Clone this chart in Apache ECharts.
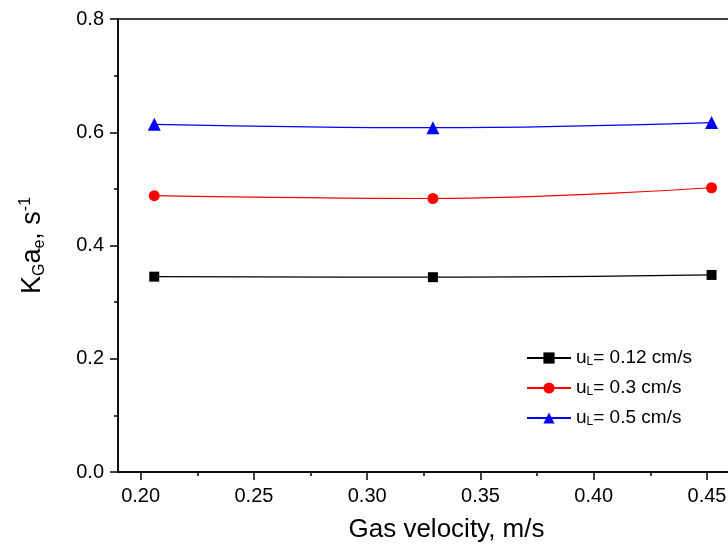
<!DOCTYPE html>
<html>
<head>
<meta charset="utf-8">
<script src="https://cdn.jsdelivr.net/npm/echarts@6/dist/echarts.min.js"></script>
<style>
	html, body { margin: 0; padding: 0; background: #fff; }
	#chart1 { width: 728px; height: 548px; }
</style>
</head>
<body>
<div id="chart1"></div>
<script>
// gas velocity (m/s)
var gasVelocity = [0.206, 0.329, 0.452];

// KGae (s^-1) for each liquid velocity
var kga012 = [0.345, 0.344, 0.348];
var kga03 = [0.488, 0.483, 0.502];
var kga05 = [0.614, 0.608, 0.617];

var seriesNames = ['uL= 0.12 cm/s', 'uL= 0.3 cm/s', 'uL= 0.5 cm/s'];
var legendRich = {
	'uL= 0.12 cm/s': '{m|u}{sub|L}{m|= 0.12 cm/s}',
	'uL= 0.3 cm/s': '{m|u}{sub|L}{m|= 0.3 cm/s}',
	'uL= 0.5 cm/s': '{m|u}{sub|L}{m|= 0.5 cm/s}'
};

var xMajorTicks = [0.20, 0.25, 0.30, 0.35, 0.40, 0.45];
var xMinorTicks = [0.225, 0.275, 0.325, 0.375, 0.425, 0.475];

var fontName = 'Liberation Sans, Arial, sans-serif';

function pairs(xs, ys) {
	var out = [];
	for (var i = 0; i < xs.length; i++) {
		out.push([xs[i], ys[i]]);
	}
	return out;
}

var chart = echarts.init(document.getElementById('chart1'));

var option = {
	animation: false,
	textStyle: { fontFamily: fontName },
	grid: {
		left: 118,
		top: 19,
		width: 657,
		height: 453,
		outerBoundsMode: 'none',
		containLabel: false,
		show: true,
		borderColor: '#000',
		borderWidth: 1.5
	},
	legend: {
		orient: 'vertical',
		left: 521,
		top: 343,
		itemWidth: 44,
		itemHeight: 14,
		itemGap: 10,
		data: seriesNames,
		formatter: function(name) { return legendRich[name]; },
		textStyle: {
			color: '#000',
			fontFamily: fontName,
			fontSize: 19,
			lineHeight: 20,
			rich: {
				m: { fontSize: 19, fontFamily: fontName, color: '#000', lineHeight: 20 },
				sub: { fontSize: 12, fontFamily: fontName, color: '#000', lineHeight: 8, verticalAlign: 'bottom' }
			}
		}
	},
	xAxis: [{
		type: 'value',
		min: 0.19,
		max: 0.48,
		position: 'bottom',
		name: 'Gas velocity, m/s',
		nameLocation: 'middle',
		nameGap: 45,
		nameTextStyle: { fontSize: 26, color: '#000', fontFamily: fontName },
		axisLine: { show: true, lineStyle: { color: '#000', width: 1.5 } },
		axisTick: { show: true, length: 8, customValues: xMajorTicks, lineStyle: { color: '#000', width: 1.5 } },
		axisLabel: {
			customValues: xMajorTicks,
			margin: 14,
			fontSize: 20,
			color: '#000',
			fontFamily: fontName,
			formatter: function(v) { return v.toFixed(2); }
		},
		splitLine: { show: false }
	}, {
		type: 'value',
		min: 0.19,
		max: 0.48,
		position: 'bottom',
		axisLine: { show: false },
		axisTick: { show: true, length: 4, customValues: xMinorTicks, lineStyle: { color: '#000', width: 1.5 } },
		axisLabel: { show: false },
		splitLine: { show: false }
	}],
	yAxis: [{
		type: 'value',
		min: 0,
		max: 0.8,
		interval: 0.2,
		name: '{m|K}{sub|G}{m|a}{sub|e}{m|, s}{sup|-1}',
		nameLocation: 'middle',
		nameGap: 70,
		nameRotate: 90,
		nameTextStyle: {
			color: '#000',
			fontFamily: fontName,
			rich: {
				m: { fontSize: 27, fontFamily: fontName, color: '#000', lineHeight: 30 },
				sub: { fontSize: 16, fontFamily: fontName, color: '#000', lineHeight: 10, verticalAlign: 'bottom' },
				sup: { fontSize: 16, fontFamily: fontName, color: '#000', lineHeight: 10, verticalAlign: 'top' }
			}
		},
		axisLine: { show: true, lineStyle: { color: '#000', width: 1.5 } },
		axisTick: { show: true, length: 8, lineStyle: { color: '#000', width: 1.5 } },
		minorTick: { show: true, splitNumber: 2, length: 4, lineStyle: { color: '#000', width: 1.5 } },
		axisLabel: {
			margin: 14,
			fontSize: 20,
			color: '#000',
			fontFamily: fontName,
			formatter: function(v) { return v.toFixed(1); }
		},
		splitLine: { show: false }
	}],
	series: [{
		name: seriesNames[0],
		type: 'line',
		smooth: 0.4,
		symbol: 'rect',
		symbolSize: 10,
		data: pairs(gasVelocity, kga012),
		lineStyle: { color: '#000', width: 1.2 },
		itemStyle: { color: '#000' }
	}, {
		name: seriesNames[1],
		type: 'line',
		smooth: 0.4,
		symbol: 'circle',
		symbolSize: 11,
		data: pairs(gasVelocity, kga03),
		lineStyle: { color: '#ff0000', width: 1.2 },
		itemStyle: { color: '#ff0000' }
	}, {
		name: seriesNames[2],
		type: 'line',
		smooth: 0.4,
		symbol: 'triangle',
		symbolSize: 13,
		data: pairs(gasVelocity, kga05),
		lineStyle: { color: '#0000ff', width: 1.2 },
		itemStyle: { color: '#0000ff' }
	}]
};

chart.setOption(option);

window.addEventListener('resize', function() {
	chart.resize();
});
</script>
</body>
</html>
